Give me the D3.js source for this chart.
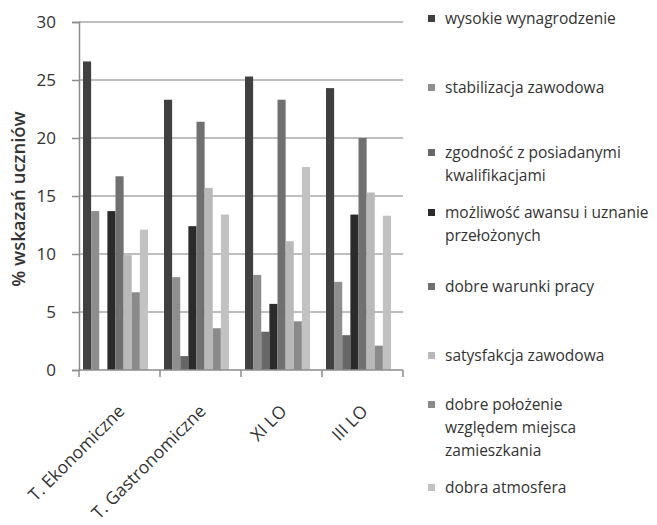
<!DOCTYPE html>
<html>
<head>
<meta charset="utf-8">
<script src="https://cdn.jsdelivr.net/npm/d3@7"></script>
<style>
  html, body { margin: 0; padding: 0; background: #fff; }
  svg { display: block; }
  text { font-family: "Open Sans", "DejaVu Sans", sans-serif; fill: #333; }
</style>
</head>
<body>
<svg id="chart" width="657" height="525"></svg>
<script>
const categories = ["T. Ekonomiczne", "T. Gastronomiczne", "XI LO", "III LO"];
const seriesNames = [
  "wysokie wynagrodzenie",
  "stabilizacja zawodowa",
  "zgodność z posiadanymi kwalifikacjami",
  "możliwość awansu i uznanie przełożonych",
  "dobre warunki pracy",
  "satysfakcja zawodowa",
  "dobre położenie względem miejsca zamieszkania",
  "dobra atmosfera"
];
const legendLines = [
  ["wysokie wynagrodzenie"],
  ["stabilizacja zawodowa"],
  ["zgodność z posiadanymi", "kwalifikacjami"],
  ["możliwość awansu i uznanie", "przełożonych"],
  ["dobre warunki pracy"],
  ["satysfakcja zawodowa"],
  ["dobre położenie", "względem miejsca", "zamieszkania"],
  ["dobra atmosfera"]
];
const wysokieWynagrodzenie = [26.6, 23.3, 25.3, 24.3];
const stabilizacjaZawodowa = [13.7, 8.0, 8.2, 7.6];
const zgodnosc = [0, 1.2, 3.3, 3.0];
const mozliwoscAwansu = [13.7, 12.4, 5.7, 13.4];
const dobreWarunki = [16.7, 21.4, 23.3, 20.0];
const satysfakcja = [9.9, 15.7, 11.1, 15.3];
const dobrePolozenie = [6.7, 3.6, 4.2, 2.1];
const dobraAtmosfera = [12.1, 13.4, 17.5, 13.3];
const seriesValues = [wysokieWynagrodzenie, stabilizacjaZawodowa, zgodnosc, mozliwoscAwansu,
                      dobreWarunki, satysfakcja, dobrePolozenie, dobraAtmosfera];
const colors = ["#404040", "#8e8e8e", "#676767", "#2b2b2b", "#707070", "#b9b9b9", "#8a8a8a", "#c2c2c2"];
const yTicks = [0, 5, 10, 15, 20, 25, 30];
const yTitle = "% wskazań uczniów";

const svg = d3.select("#chart");
const plot = { left: 79, right: 403, top: 22, bottom: 370 };

const y = d3.scaleLinear().domain([0, 30]).range([plot.bottom, plot.top]);
const x0 = d3.scaleBand().domain(categories).range([plot.left, plot.right])
  .paddingInner(0.1975).paddingOuter(0.09875).align(0.25);
const x1 = d3.scaleBand().domain(d3.range(seriesNames.length)).range([0, x0.bandwidth()]);
const xEdge = d3.scaleLinear().domain([0, categories.length]).range([plot.left, plot.right]);

// gridlines
svg.append("g").selectAll("line").data(yTicks.filter(d => d > 0)).join("line")
  .attr("x1", plot.left).attr("x2", plot.right)
  .attr("y1", d => y(d)).attr("y2", d => y(d))
  .attr("stroke", "#a8a8a8").attr("stroke-width", 1.5);

// bars
const groups = svg.append("g").selectAll("g").data(categories).join("g")
  .attr("transform", d => `translate(${x0(d)},0)`);
groups.selectAll("rect")
  .data((c, ci) => seriesValues.map((s, si) => ({ si, v: s[ci] })))
  .join("rect")
  .attr("x", d => x1(d.si))
  .attr("width", x1.bandwidth())
  .attr("y", d => y(d.v))
  .attr("height", d => y(0) - y(d.v))
  .attr("fill", d => colors[d.si]);

// y axis
const yAxis = d3.axisLeft(y).tickValues(yTicks).tickSize(7).tickPadding(16);
const gy = svg.append("g").attr("transform", `translate(${plot.left},0)`).call(yAxis);
gy.select(".domain").attr("stroke", "#8c8c8c").attr("stroke-width", 1.5);
gy.selectAll(".tick line").attr("stroke", "#8c8c8c").attr("stroke-width", 1.5);
gy.selectAll(".tick text").attr("font-size", 17).attr("fill", "#333")
  .attr("font-family", "'Open Sans', sans-serif");

// x axis baseline and boundary ticks
const gx = svg.append("g");
gx.append("line").attr("x1", plot.left).attr("x2", plot.right)
  .attr("y1", plot.bottom).attr("y2", plot.bottom)
  .attr("stroke", "#8c8c8c").attr("stroke-width", 1.5);
gx.selectAll("line.t").data(d3.range(categories.length + 1)).join("line")
  .attr("class", "t")
  .attr("x1", d => xEdge(d)).attr("x2", d => xEdge(d))
  .attr("y1", plot.bottom).attr("y2", plot.bottom + 7)
  .attr("stroke", "#8c8c8c").attr("stroke-width", 1.5);
gx.selectAll("text").data(categories).join("text")
  .attr("transform", (d, i) => `translate(${(xEdge(i) + xEdge(i + 1)) / 2 + 2},${plot.bottom + 38}) rotate(-45)`)
  .attr("text-anchor", "end")
  .attr("dy", "0.35em")
  .attr("font-size", 17.5)
  .text(d => d);

// y title
svg.append("text")
  .attr("transform", `translate(19,199) rotate(-90)`)
  .attr("text-anchor", "middle")
  .attr("dy", "0.35em")
  .attr("font-size", 18.5)
  .attr("font-weight", 600)
  .text(yTitle);

// legend
const legendY = [19, 88, 153, 213, 287, 356, 405, 488];
const lg = svg.append("g").selectAll("g").data(seriesNames).join("g")
  .attr("transform", (d, i) => `translate(428,${legendY[i]})`);
lg.append("rect").attr("x", 0).attr("y", -4).attr("width", 7).attr("height", 7)
  .attr("fill", (d, i) => colors[i]);
lg.each(function (d, i) {
  const t = d3.select(this).append("text").attr("font-size", 15.5)
    .attr("fill", "#333");
  legendLines[i].forEach((line, li) => {
    t.append("tspan").attr("x", 17).attr("y", li * 23).attr("dy", "0.35em").text(line);
  });
});
</script>
</body>
</html>
